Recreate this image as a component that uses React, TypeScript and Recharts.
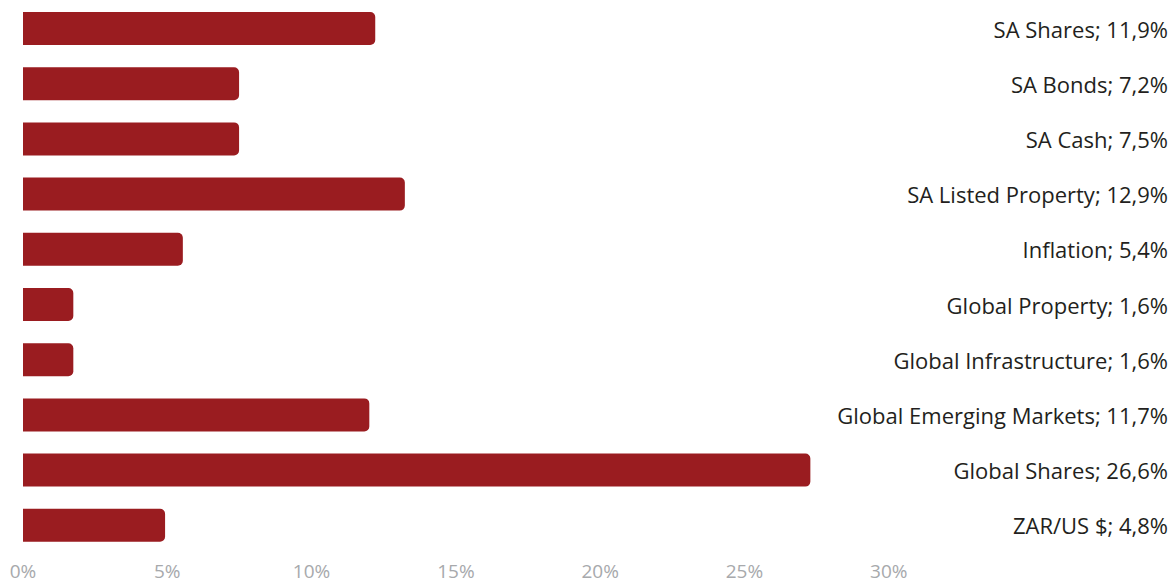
import React from "react";
import { BarChart, Bar, XAxis, YAxis } from "recharts";

const categories = [
  "SA Shares",
  "SA Bonds",
  "SA Cash",
  "SA Listed Property",
  "Inflation",
  "Global Property",
  "Global Infrastructure",
  "Global Emerging Markets",
  "Global Shares",
  "ZAR/US $",
];
const barValues = [11.9, 7.3, 7.3, 12.9, 5.4, 1.7, 1.7, 11.7, 26.6, 4.8];
const labelValues = ["11,9%", "7,2%", "7,5%", "12,9%", "5,4%", "1,6%", "1,6%", "11,7%", "26,6%", "4,8%"];
const tickValues = [0, 5, 10, 15, 20, 25, 30];

const data = categories.map((c, i) => ({
  name: c,
  value: barValues[i],
  label: `${c}; ${labelValues[i]}`,
}));

const FONT = "'Open Sans', 'Liberation Sans', sans-serif";
const LABEL_RIGHT = 1168;

const RightTick = (props: any) => {
  const { y, payload } = props;
  return (
    <text
      x={LABEL_RIGHT}
      y={y}
      textAnchor="end"
      dominantBaseline="central"
      fontFamily={FONT}
      fontSize={22}
      fill="#231F20"
    >
      {payload.value}
    </text>
  );
};

const BottomTick = (props: any) => {
  const { x, payload } = props;
  return (
    <text
      x={x}
      y={578}
      textAnchor="middle"
      fontFamily={FONT}
      fontSize={19}
      fill="#A7A9AC"
    >
      {`${payload.value}%`}
    </text>
  );
};

export default function App() {
  return (
    <div style={{ position: "absolute", left: 0, top: 0, width: 1174, height: 586, background: "#fff" }}>
      <BarChart
        width={1174}
        height={586}
        data={data}
        layout="vertical"
        margin={{ top: 1, right: 0, left: 23, bottom: 0 }}
      >
        <XAxis xAxisId="bar" type="number" domain={[0, 30]} hide orientation="top" height={0} allowDataOverflow />
        <XAxis
          xAxisId="tick"
          type="number"
          domain={[0, 30.77]}
          ticks={tickValues}
          height={33}
          axisLine={false}
          tickLine={false}
          interval={0}
          tick={<BottomTick />}
          allowDataOverflow
        />
        <YAxis
          type="category"
          dataKey="label"
          orientation="right"
          width={263}
          axisLine={false}
          tickLine={false}
          interval={0}
          tick={<RightTick />}
        />
        <Bar
          xAxisId="bar"
          dataKey="value"
          fill="#9A1C20"
          barSize={33}
          radius={[0, 5, 5, 0]}
          isAnimationActive={false}
        />
      </BarChart>
    </div>
  );
}
